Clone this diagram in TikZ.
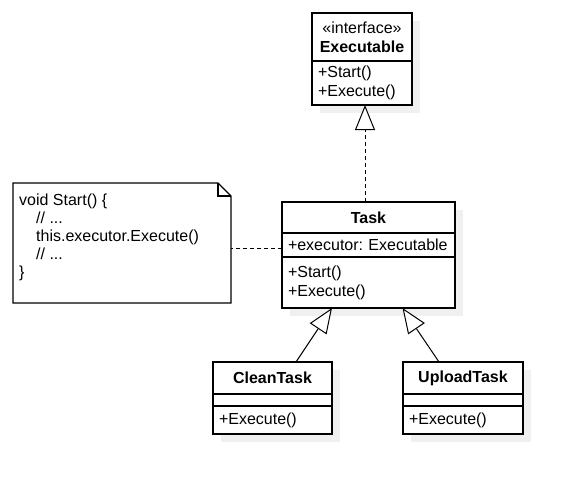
\documentclass[tikz,border=0pt]{standalone}
\usepackage{fontspec}
\setmainfont{Liberation Sans}
\frenchspacing
\usetikzlibrary{positioning,arrows.meta,shadows}
\tikzset{
  umlpart/.style={draw,fill=white,line width=1.1pt,inner xsep=6pt,inner ysep=0pt,outer sep=0pt,anchor=north west,
    general shadow={fill=black!6,shadow xshift=8pt,shadow yshift=-8pt}},
  umlhead/.style={umlpart,align=center},
  umllist/.style={umlpart,align=left,anchor=north},
  realize/.style={line width=1pt,dash pattern=on 4pt off 3pt,-{Triangle[length=25pt,width=20pt,fill=white]}},
  extends/.style={line width=1pt,-{Triangle[length=25pt,width=20pt,fill=white]}},
  assoc/.style={line width=1pt,dash pattern=on 4pt off 3pt},
}
\begin{document}
\begin{tikzpicture}[x=1pt,y=-1pt,font=\fontsize{16pt}{19pt}\selectfont]
  \useasboundingbox (0,0) rectangle (572,483);
  % interface
  \node[umlhead,text width=88pt,minimum height=48pt] (iface) at (312,13) {«interface»\\\textbf{Executable}};
  \node[umllist,text width=88pt,minimum height=44pt] (iface-m) at (iface.south) {+Start()\\+Execute()};
  % base class
  \node[umlhead,text width=161pt,minimum height=31pt] (task) at (282,202) {\textbf{Task}};
  \node[umllist,text width=161pt,minimum height=24pt] (task-a) at (task.south) {+executor: Executable};
  \node[umllist,text width=161pt,minimum height=51pt] (task-m) at (task-a.south) {+Start()\\+Execute()};
  % subclasses
  \node[umlhead,text width=107pt,minimum height=32pt] (clean) at (213,362) {\textbf{CleanTask}};
  \node[umllist,text width=107pt,minimum height=12pt] (clean-a) at (clean.south) {};
  \node[umllist,text width=107pt,minimum height=28pt] (clean-m) at (clean-a.south) {+Execute()};
  \node[umlhead,text width=108pt,minimum height=32pt] (upload) at (403,362) {\textbf{UploadTask}};
  \node[umllist,text width=108pt,minimum height=12pt] (upload-a) at (upload.south) {};
  \node[umllist,text width=108pt,minimum height=28pt] (upload-m) at (upload-a.south) {+Execute()};
  % note
  \node[minimum width=218pt,minimum height=120pt,anchor=north west,inner sep=0pt,outer sep=0pt] (note) at (13,183) {};
  \draw[line width=1.1pt] (note.north west) -- ([xshift=-13pt]note.north east) -- ([yshift=-13pt]note.north east)
    -- (note.south east) -- (note.south west) -- cycle;
  \draw[line width=1.1pt] ([xshift=-13pt]note.north east) |- ([yshift=-13pt]note.north east);
  \node[anchor=north west,align=left,inner sep=0pt,font=\fontsize{16pt}{18pt}\selectfont] (code)
    at ([shift={(6pt,-11pt)}]note.north west)
    {void Start() \{\\\hspace*{17pt}// ...\\\hspace*{17pt}this.executor.Execute()\\\hspace*{17pt}// ...\\\}};
  % connectors
  \draw[realize] ([xshift=-3.5pt]task.north) -- ([xshift=3pt]iface-m.south);
  \draw[extends] ([xshift=23.5pt]clean.north) -- ([xshift=-36.5pt]task-m.south);
  \draw[extends] ([xshift=-24pt]upload.north) -- ([xshift=34pt]task-m.south);
  \coordinate (link) at ([yshift=-3pt]task-a.west);
  \draw[assoc] (link) -- (link -| note.east);
\end{tikzpicture}
\end{document}
